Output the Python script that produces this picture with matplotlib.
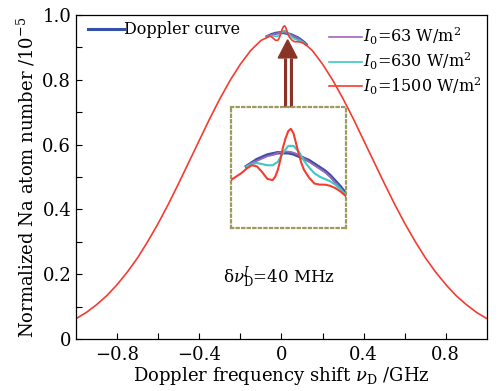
import numpy as np
import matplotlib
matplotlib.use("Agg")
import matplotlib.pyplot as plt
from matplotlib.patches import Polygon

plt.rcParams['font.family'] = ['DejaVu Serif']
plt.rcParams['mathtext.fontset'] = 'dejavuserif'

# Doppler envelope (0.05 GHz step, right half; curve is symmetric)
env_x_half = [0.00, 0.05, 0.10, 0.15, 0.20, 0.25, 0.30, 0.35, 0.40, 0.45, 0.50,
              0.55, 0.60, 0.65, 0.70, 0.75, 0.80, 0.85, 0.90, 0.95, 1.00]
env_y_half = [0.945, 0.939, 0.920, 0.890, 0.848, 0.798, 0.741, 0.679, 0.613, 0.547, 0.481,
              0.417, 0.357, 0.302, 0.251, 0.207, 0.168, 0.134, 0.106, 0.082, 0.063]

# peak region (GHz), where the curves differ
red_x = [-0.10, -0.09, -0.08, -0.07, -0.06, -0.05, -0.04, -0.03, -0.02, -0.015, -0.01, -0.005,
         0.00, 0.005, 0.01, 0.015, 0.02, 0.025, 0.03, 0.035, 0.04, 0.05, 0.06, 0.07, 0.08,
         0.09, 0.10, 0.11, 0.12]
red_y = [0.921, 0.924, 0.927, 0.931, 0.934, 0.933, 0.928, 0.922, 0.921, 0.924, 0.930, 0.939,
         0.950, 0.958, 0.964, 0.966, 0.962, 0.953, 0.944, 0.936, 0.930, 0.923, 0.918, 0.917, 0.917,
         0.916, 0.914, 0.911, 0.907]

pk_x = [-0.07, -0.06, -0.05, -0.04, -0.03, -0.02, -0.01, 0.00, 0.01, 0.02, 0.03, 0.04,
        0.05, 0.06, 0.07, 0.08, 0.09, 0.10, 0.11, 0.12]
blue_y = [0.933, 0.936, 0.939, 0.941, 0.943, 0.944, 0.945, 0.945, 0.945, 0.944, 0.942, 0.940,
          0.938, 0.935, 0.932, 0.929, 0.925, 0.920, 0.915, 0.909]
purple_y = [0.933, 0.936, 0.938, 0.940, 0.942, 0.943, 0.945, 0.946, 0.946, 0.945, 0.943, 0.940,
            0.937, 0.934, 0.931, 0.928, 0.924, 0.919, 0.914, 0.908]
cyan_y = [0.933, 0.935, 0.936, 0.935, 0.934, 0.934, 0.937, 0.945, 0.951, 0.951, 0.946, 0.938,
          0.932, 0.927, 0.924, 0.922, 0.920, 0.917, 0.913, 0.908]

labels = [r'$I_0$=63 W/m$^2$', r'$I_0$=630 W/m$^2$', r'$I_0$=1500 W/m$^2$']
c_blue, c_purple, c_cyan, c_red = '#3550a8', '#a266b8', '#3cc8c4', '#f43c30'

env_x = np.concatenate([-np.array(env_x_half[:0:-1]), env_x_half])
env_y = np.concatenate([env_y_half[:0:-1], env_y_half])

# red curve = envelope outside the peak region + peak data
lo = env_x < min(red_x) - 1e-9
hi = env_x > max(red_x) + 1e-9
full_x = np.concatenate([env_x[lo], red_x, env_x[hi]])
full_y = np.concatenate([env_y[lo], red_y, env_y[hi]])

fig = plt.figure(figsize=(5.04, 3.91), dpi=100)
ax = fig.add_axes([0.151, 0.133, 0.815, 0.829])

l_blue, = ax.plot(pk_x, blue_y, color=c_blue, lw=2.2)
l_pur, = ax.plot(pk_x, purple_y, color=c_purple, lw=1.2)
l_cyan, = ax.plot(pk_x, cyan_y, color=c_cyan, lw=1.2)
l_red, = ax.plot(full_x, full_y, color=c_red, lw=1.2)

ax.set_xlim(-1, 1)
ax.set_ylim(0, 1)
ax.set_xticks([-0.8, -0.4, 0, 0.4, 0.8])
ax.set_xticklabels(['\u22120.8', '\u22120.4', '0', '0.4', '0.8'])
ax.set_xticks(np.arange(-0.8, 0.81, 0.2), minor=True)
ax.set_yticks([0, 0.2, 0.4, 0.6, 0.8, 1.0])
ax.set_yticklabels(['0', '0.2', '0.4', '0.6', '0.8', '1.0'])
ax.set_yticks(np.arange(0.1, 1.0, 0.2), minor=True)
ax.tick_params(which='both', direction='in', length=4, width=0.8, labelsize=13)
ax.tick_params(axis='x', pad=5)
for s in ax.spines.values():
    s.set_linewidth(0.9)
ax.set_xlabel(r'Doppler frequency shift $\nu_{\rm D}$ /GHz', fontsize=13, labelpad=1)
ax.set_ylabel(r'Normalized Na atom number /10$^{-5}$', fontsize=13, labelpad=4)

leg1 = ax.legend([l_blue], ['Doppler curve'], loc='upper left', bbox_to_anchor=(-0.005, 1.025),
                 frameon=False, fontsize=11.5, handlelength=2.2, handletextpad=0.05)
ax.add_artist(leg1)
ax.legend([l_pur, l_cyan, l_red], labels, loc='upper right', bbox_to_anchor=(1.022, 1.01),
          frameon=False, fontsize=11.5, handlelength=2.1, handletextpad=0.05, labelspacing=0.2)

ax.text(-0.01, 0.19, '\u03b4' + r'$\nu_{\rm D}^{I}$=40 MHz', fontsize=12, ha='center', va='center')

# arrow from inset up to the peak
arrow_x, arrow_base, arrow_neck, arrow_tip = 0.03, 0.716, 0.867, 0.923
ax.plot([arrow_x, arrow_x], [arrow_base, arrow_neck], color='#8a3428', lw=6.5, solid_capstyle='butt')
ax.plot([arrow_x, arrow_x], [arrow_base, arrow_neck], color='white', lw=2.0, solid_capstyle='butt')
ax.add_patch(Polygon([[arrow_x - 0.046, arrow_neck], [arrow_x + 0.046, arrow_neck],
                      [arrow_x, arrow_tip]], closed=True, color='#8a3428'))

# zoomed inset of the peak
axin = fig.add_axes([0.458, 0.417, 0.228, 0.309])
axin.plot(red_x, red_y, color=c_red, lw=1.5, zorder=4)
axin.plot(pk_x, blue_y, color=c_blue, lw=2.5, zorder=1)
axin.plot(pk_x, purple_y, color=c_purple, lw=1.3, zorder=2)
axin.plot(pk_x, cyan_y, color=c_cyan, lw=1.5, zorder=3)
axin.set_xlim(-0.10, 0.12)
axin.set_ylim(0.879, 0.985)
axin.set_xticks([])
axin.set_yticks([])
axin.patch.set_alpha(0)
for s in axin.spines.values():
    s.set_linestyle((0, (1, 1.5)))
    s.set_color('#9c9a5c')
    s.set_linewidth(1.6)

fig.savefig('out.png', dpi=100)
